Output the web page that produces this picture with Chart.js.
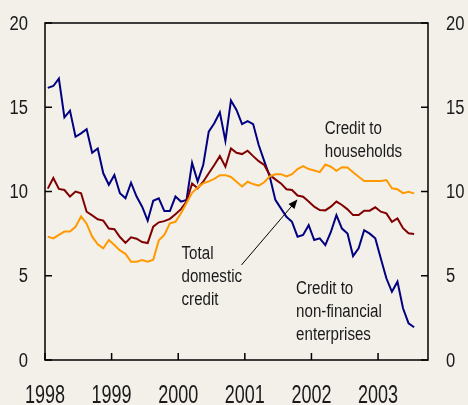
<!DOCTYPE html>
<html>
<head>
<meta charset="utf-8">
<script src="https://cdn.jsdelivr.net/npm/chart.js@4/dist/chart.umd.min.js"></script>
<style>
  html, body { margin: 0; padding: 0; background: #f3f0ea; }
  canvas { display: block; }
</style>
</head>
<body>
<canvas id="chart" width="468" height="405"></canvas>
<script>
// monthly growth rates, Jan 1998 - Jul 2003
var startYear = 1998
var yearTicks = [1998, 1999, 2000, 2001, 2002, 2003]
var valueTicks = [0, 5, 10, 15, 20]

var enterprises = [16.15, 16.26, 16.7, 14.4, 14.8, 13.25, 13.45, 13.7, 12.3, 12.55,
  11.08, 10.4, 10.98, 9.9, 9.6, 10.52, 9.7, 9.1, 8.27, 9.45,
  9.6, 8.84, 8.84, 9.7, 9.4, 9.5, 11.7, 10.6, 11.57, 13.55,
  14.05, 14.7, 13.0, 15.4, 14.84, 14.0, 14.18, 14.0, 12.76, 11.8,
  10.88, 9.5, 9.0, 8.5, 8.2, 7.32, 7.42, 8.0, 7.12, 7.22,
  6.82, 7.6, 8.6, 7.8, 7.5, 6.17, 6.63, 7.7, 7.5, 7.22,
  6.03, 4.85, 4.05, 4.65, 3.07, 2.18, 1.94]

var totalCredit = [10.17, 10.8, 10.15, 10.09, 9.7, 10.0, 9.9, 8.8, 8.58, 8.35,
  8.27, 7.8, 7.76, 7.3, 6.95, 7.28, 7.2, 7.0, 6.94, 7.91,
  8.17, 8.24, 8.38, 8.65, 8.95, 9.4, 10.48, 10.19, 10.58, 11.08,
  11.57, 12.1, 11.47, 12.56, 12.3, 12.22, 12.42, 12.1, 11.8, 11.57,
  10.98, 10.72, 10.48, 10.13, 10.09, 9.76, 9.69, 9.4, 9.1, 8.9,
  8.88, 9.1, 9.4, 9.2, 8.94, 8.6, 8.6, 8.86, 8.86, 9.06,
  8.8, 8.7, 8.2, 8.4, 7.82, 7.52, 7.48]

var households = [7.32, 7.22, 7.42, 7.62, 7.62, 7.9, 8.52, 8.09, 7.32, 6.87,
  6.63, 7.12, 6.82, 6.5, 6.3, 5.83, 5.83, 5.93, 5.83, 5.95,
  7.1, 7.42, 8.11, 8.2, 8.71, 9.32, 9.92, 10.23, 10.48, 10.6,
  10.75, 10.97, 10.97, 10.86, 10.58, 10.3, 10.58, 10.44, 10.35, 10.55,
  10.9, 11.02, 11.03, 10.9, 11.03, 11.33, 11.5, 11.33, 11.25, 11.15,
  11.6, 11.47, 11.23, 11.44, 11.43, 11.14, 10.88, 10.62, 10.62, 10.62,
  10.62, 10.68, 10.19, 10.13, 9.9, 9.98, 9.89]

// text labels placed in data units
var notes = [
  { lines: ['Credit to', 'households'], x: 2002.2, y: 13.7 },
  { lines: ['Total', 'domestic', 'credit'], x: 2000.05, y: 6.29 },
  { lines: ['Credit to', 'non-financial', 'enterprises'], x: 2001.77, y: 4.21 }
]
var arrow = { from: [2000.95, 5.64], to: [2001.79, 9.53] }

var fontFamily = "'Liberation Sans', Arial, sans-serif"
var textColor = '#1a1a1a'

function toPoints(values) {
  return values.map(function (v, i) {
    return { x: startYear + (i + 0.5) / 12, y: v }
  })
}

// the source uses a squeezed Arial, so text is scaled horizontally
function squeezedText(ctx, text, x, y, size, sx, align) {
  ctx.save()
  ctx.translate(x, y)
  ctx.scale(sx, 1)
  ctx.font = size + 'px ' + fontFamily
  ctx.textAlign = align
  ctx.textBaseline = 'middle'
  ctx.fillText(text, 0, 0)
  ctx.restore()
}

var framePlugin = {
  id: 'frame',
  afterDraw: function (chart) {
    var ctx = chart.ctx
    var a = chart.chartArea
    var xs = chart.scales.x
    var ys = chart.scales.y
    ctx.save()
    ctx.strokeStyle = '#000'
    ctx.lineWidth = 1.5
    ctx.strokeRect(a.left, a.top, a.right - a.left, a.bottom - a.top)
    ctx.beginPath()
    yearTicks.forEach(function (v) {
      var px = xs.getPixelForValue(v)
      ctx.moveTo(px, a.bottom)
      ctx.lineTo(px, a.bottom - 7)
    })
    valueTicks.forEach(function (v) {
      var py = ys.getPixelForValue(v)
      ctx.moveTo(a.left, py)
      ctx.lineTo(a.left + 7, py)
      ctx.moveTo(a.right, py)
      ctx.lineTo(a.right - 7, py)
    })
    ctx.stroke()

    // tick labels
    ctx.fillStyle = textColor
    valueTicks.forEach(function (v) {
      var py = ys.getPixelForValue(v) + 1
      squeezedText(ctx, String(v), a.left - 17, py, 20, 0.83, 'right')
      squeezedText(ctx, String(v), a.right + 18, py, 20, 0.83, 'left')
    })
    yearTicks.forEach(function (v) {
      squeezedText(ctx, String(v), xs.getPixelForValue(v), a.bottom + 36, 25, 0.72, 'center')
    })

    // annotations
    notes.forEach(function (n) {
      var px = xs.getPixelForValue(n.x)
      var py = ys.getPixelForValue(n.y)
      n.lines.forEach(function (t, k) {
        squeezedText(ctx, t, px, py + k * 23, 18, 0.84, 'left')
      })
    })

    // arrow
    var x1 = xs.getPixelForValue(arrow.from[0]), y1 = ys.getPixelForValue(arrow.from[1])
    var x2 = xs.getPixelForValue(arrow.to[0]), y2 = ys.getPixelForValue(arrow.to[1])
    var ang = Math.atan2(y2 - y1, x2 - x1)
    ctx.strokeStyle = '#000'
    ctx.lineWidth = 1
    ctx.beginPath()
    ctx.moveTo(x1, y1)
    ctx.lineTo(x2 - 6 * Math.cos(ang), y2 - 6 * Math.sin(ang))
    ctx.stroke()
    ctx.fillStyle = '#000'
    ctx.beginPath()
    ctx.moveTo(x2, y2)
    ctx.lineTo(x2 - 10 * Math.cos(ang - 0.4), y2 - 10 * Math.sin(ang - 0.4))
    ctx.lineTo(x2 - 10 * Math.cos(ang + 0.4), y2 - 10 * Math.sin(ang + 0.4))
    ctx.closePath()
    ctx.fill()
    ctx.restore()
  }
}

function valueAxis(position, width) {
  return {
    type: 'linear',
    position: position,
    min: 0,
    max: 20,
    afterBuildTicks: function (s) { s.ticks = valueTicks.map(function (v) { return { value: v } }) },
    afterFit: function (s) { s.width = width },
    grid: { display: false, drawTicks: false },
    border: { display: false },
    ticks: { display: false }
  }
}

new Chart(document.getElementById('chart'), {
  type: 'line',
  data: {
    datasets: [
      { label: 'Credit to households', data: toPoints(households), borderColor: '#ff9900', borderWidth: 2 },
      { label: 'Total domestic credit', data: toPoints(totalCredit), borderColor: '#800000', borderWidth: 2 },
      { label: 'Credit to non-financial enterprises', data: toPoints(enterprises), borderColor: '#000080', borderWidth: 2 }
    ]
  },
  options: {
    responsive: false,
    animation: false,
    elements: { point: { radius: 0 }, line: { tension: 0, fill: false } },
    layout: { padding: { top: 23, left: 0, right: 0, bottom: 0 } },
    plugins: { legend: { display: false }, tooltip: { enabled: false } },
    scales: {
      x: {
        type: 'linear',
        position: 'bottom',
        min: 1998,
        max: 2003.75,
        afterBuildTicks: function (s) { s.ticks = yearTicks.map(function (v) { return { value: v } }) },
        afterFit: function (s) { s.height = 45 },
        grid: { display: false, drawTicks: false },
        border: { display: false },
        ticks: { display: false }
      },
      y: valueAxis('left', 45),
      y2: valueAxis('right', 40)
    }
  },
  plugins: [framePlugin]
})
</script>
</body>
</html>
